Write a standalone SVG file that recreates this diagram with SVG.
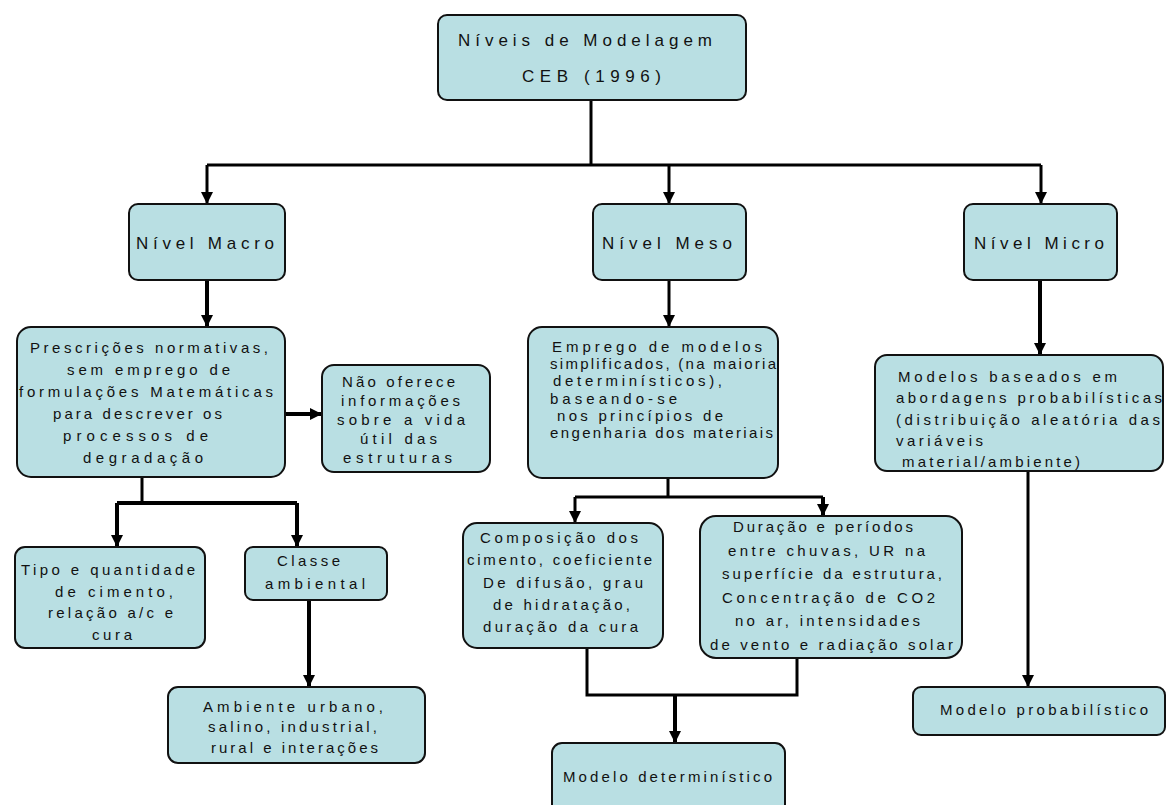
<svg xmlns="http://www.w3.org/2000/svg" width="1166" height="805" viewBox="0 0 1166 805">
<style>
.box{fill:#b9dfe3;stroke:#111;stroke-width:2}
.t{font-family:"Liberation Sans",Arial,sans-serif;font-size:15px;fill:#111}
.h{font-family:"Liberation Sans",Arial,sans-serif;font-size:17px;fill:#111}
.c{fill:none;stroke:#000;stroke-width:3}
.ck{fill:none;stroke:#000;stroke-width:4}
</style>
<defs>
<marker id="ar" markerUnits="userSpaceOnUse" markerWidth="14" markerHeight="12" refX="12" refY="6" orient="auto">
<path d="M0,0 L12,6 L0,12 Z" fill="#000"/>
</marker>
</defs>
<rect width="1166" height="805" fill="#fff"/>
<g id="connectors">
<path class="c" d="M591,100 V165"/>
<path class="c" d="M207,165 H1041"/>
<path class="c" d="M207,165 V204" marker-end="url(#ar)"/>
<path class="c" d="M669,165 V204" marker-end="url(#ar)"/>
<path class="c" d="M1041,165 V204" marker-end="url(#ar)"/>
<path class="ck" d="M207,280 V327" marker-end="url(#ar)"/>
<path class="c" d="M669,280 V327" marker-end="url(#ar)"/>
<path class="ck" d="M1040,280 V355" marker-end="url(#ar)"/>
<path class="ck" d="M285,414 H322" marker-end="url(#ar)"/>
<path class="c" d="M142,477 V503"/>
<path class="ck" d="M117,503 H297"/>
<path class="ck" d="M117,503 V547" marker-end="url(#ar)"/>
<path class="ck" d="M297,503 V547" marker-end="url(#ar)"/>
<path class="ck" d="M309,600 V687" marker-end="url(#ar)"/>
<path class="c" d="M668,478 V497"/>
<path class="c" d="M575,497 H823"/>
<path class="c" d="M575,497 V523" marker-end="url(#ar)"/>
<path class="ck" d="M823,497 V516" marker-end="url(#ar)"/>
<path class="c" d="M587,648 V695 H797 V658"/>
<path class="ck" d="M675,695 V743" marker-end="url(#ar)"/>
<path class="c" d="M1028,471 V687" marker-end="url(#ar)"/>
</g>
<g id="n-top">
<rect class="box" x="438" y="15" width="308" height="85" rx="9"/>
<text class="h" x="458" y="46" textLength="254" lengthAdjust="spacing">Níveis de Modelagem</text>
<text class="h" x="522" y="82" textLength="139" lengthAdjust="spacing">CEB (1996)</text>
</g>
<g id="n-macro">
<rect class="box" x="129" y="204" width="156" height="76" rx="9"/>
<text class="h" x="136" y="249" textLength="138" lengthAdjust="spacing">Nível Macro</text>
</g>
<g id="n-meso">
<rect class="box" x="593" y="204" width="153" height="76" rx="9"/>
<text class="h" x="602" y="249" textLength="130" lengthAdjust="spacing">Nível Meso</text>
</g>
<g id="n-micro">
<rect class="box" x="964" y="204" width="153" height="76" rx="9"/>
<text class="h" x="974" y="249" textLength="130" lengthAdjust="spacing">Nível Micro</text>
</g>
<g id="n-macro-desc">
<rect class="box" x="17" y="327" width="268" height="150" rx="14"/>
<text class="t" x="30" y="353" textLength="238" lengthAdjust="spacing">Prescrições normativas,</text>
<text class="t" x="67" y="375" textLength="163" lengthAdjust="spacing">sem emprego de</text>
<text class="t" x="19" y="397" textLength="254" lengthAdjust="spacing">formulações Matemáticas</text>
<text class="t" x="53" y="419" textLength="169" lengthAdjust="spacing">para descrever os</text>
<text class="t" x="63" y="441" textLength="145" lengthAdjust="spacing">processos de</text>
<text class="t" x="83" y="463" textLength="120" lengthAdjust="spacing">degradação</text>
</g>
<g id="n-nao">
<rect class="box" x="322" y="365" width="168" height="107" rx="12"/>
<text class="t" x="342" y="387" textLength="113" lengthAdjust="spacing">Não oferece</text>
<text class="t" x="341" y="406" textLength="119" lengthAdjust="spacing">informações</text>
<text class="t" x="337" y="425" textLength="128" lengthAdjust="spacing">sobre a vida</text>
<text class="t" x="360" y="444" textLength="77" lengthAdjust="spacing">útil das</text>
<text class="t" x="343" y="463" textLength="109" lengthAdjust="spacing">estruturas</text>
</g>
<g id="n-tipo">
<rect class="box" x="15" y="547" width="190" height="101" rx="10"/>
<text class="t" x="21" y="575" textLength="174" lengthAdjust="spacing">Tipo e quantidade</text>
<text class="t" x="55" y="597" textLength="118" lengthAdjust="spacing">de cimento,</text>
<text class="t" x="48" y="618" textLength="125" lengthAdjust="spacing">relação a/c e</text>
<text class="t" x="92" y="640" textLength="40" lengthAdjust="spacing">cura</text>
</g>
<g id="n-classe">
<rect class="box" x="245" y="547" width="142" height="53" rx="8"/>
<text class="t" x="277" y="566" textLength="63" lengthAdjust="spacing">Classe</text>
<text class="t" x="265" y="589" textLength="100" lengthAdjust="spacing">ambiental</text>
</g>
<g id="n-ambiente">
<rect class="box" x="168" y="687" width="257" height="76" rx="10"/>
<text class="t" x="203" y="712" textLength="180" lengthAdjust="spacing">Ambiente urbano,</text>
<text class="t" x="208" y="732" textLength="169" lengthAdjust="spacing">salino, industrial,</text>
<text class="t" x="211" y="753" textLength="167" lengthAdjust="spacing">rural e interações</text>
</g>
<g id="n-meso-desc">
<rect class="box" x="528" y="327" width="250" height="151" rx="14"/>
<text class="t" x="552" y="352" textLength="210" lengthAdjust="spacing">Emprego de modelos</text>
<text class="t" x="550" y="369" textLength="226" lengthAdjust="spacing">simplificados, (na maioria</text>
<text class="t" x="553" y="386" textLength="169" lengthAdjust="spacing">determinísticos),</text>
<text class="t" x="550" y="404" textLength="127" lengthAdjust="spacing">baseando-se</text>
<text class="t" x="557" y="421" textLength="166" lengthAdjust="spacing">nos princípios de</text>
<text class="t" x="550" y="438" textLength="223" lengthAdjust="spacing">engenharia dos materiais</text>
</g>
<g id="n-micro-desc">
<rect class="box" x="875" y="355" width="288" height="116" rx="12"/>
<text class="t" x="898" y="382" textLength="219" lengthAdjust="spacing">Modelos baseados em</text>
<text class="t" x="896" y="403" textLength="266" lengthAdjust="spacing">abordagens probabilísticas</text>
<text class="t" x="896" y="425" textLength="264" lengthAdjust="spacing">(distribuição aleatória das</text>
<text class="t" x="896" y="446" textLength="87" lengthAdjust="spacing">variáveis</text>
<text class="t" x="902" y="467" textLength="178" lengthAdjust="spacing">material/ambiente)</text>
</g>
<g id="n-composicao">
<rect class="box" x="463" y="523" width="200" height="125" rx="14"/>
<text class="t" x="480" y="543" textLength="158" lengthAdjust="spacing">Composição dos</text>
<text class="t" x="467" y="565" textLength="185" lengthAdjust="spacing">cimento, coeficiente</text>
<text class="t" x="483" y="588" textLength="160" lengthAdjust="spacing">De difusão, grau</text>
<text class="t" x="493" y="610" textLength="137" lengthAdjust="spacing">de hidratação,</text>
<text class="t" x="483" y="632" textLength="155" lengthAdjust="spacing">duração da cura</text>
</g>
<g id="n-duracao">
<rect class="box" x="700" y="516" width="262" height="142" rx="16"/>
<text class="t" x="733" y="532" textLength="180" lengthAdjust="spacing">Duração e períodos</text>
<text class="t" x="728" y="556" textLength="197" lengthAdjust="spacing">entre chuvas, UR na</text>
<text class="t" x="722" y="579" textLength="220" lengthAdjust="spacing">superfície da estrutura,</text>
<text class="t" x="722" y="603" textLength="213" lengthAdjust="spacing">Concentração de CO2</text>
<text class="t" x="735" y="626" textLength="185" lengthAdjust="spacing">no ar, intensidades</text>
<text class="t" x="710" y="650" textLength="243" lengthAdjust="spacing">de vento e radiação solar</text>
</g>
<g id="n-determ">
<rect class="box" x="552" y="743" width="233" height="80" rx="10"/>
<text class="t" x="563" y="782" textLength="209" lengthAdjust="spacing">Modelo determinístico</text>
</g>
<g id="n-prob">
<rect class="box" x="913" y="687" width="252" height="48" rx="8"/>
<text class="t" x="940" y="715" textLength="208" lengthAdjust="spacing">Modelo probabilístico</text>
</g>
</svg>
